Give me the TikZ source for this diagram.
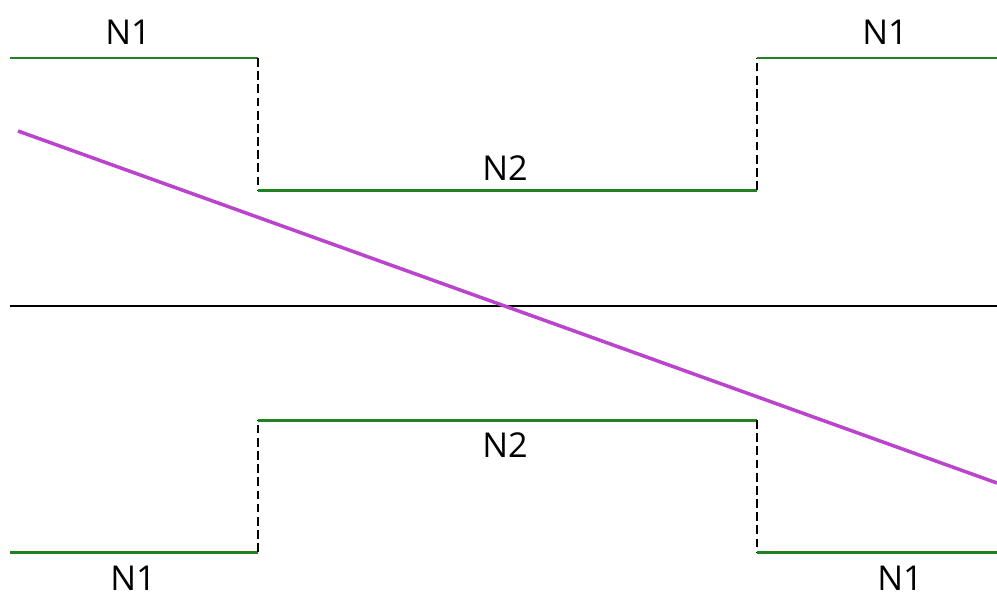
\documentclass[tikz,border=0pt]{standalone}
\usepackage{fontspec}
\setmainfont{Open Sans}
\usetikzlibrary{positioning}
\definecolor{hijauGaris}{RGB}{34,130,34}
\definecolor{unguGaris}{RGB}{187,68,204}

\begin{document}
\begin{tikzpicture}[
  x=0.02cm, y=-0.02cm,
  garisN/.style={draw=hijauGaris, line width=1.7pt},
  garisBatas/.style={draw=black, dash pattern=on 5pt off 2.5pt, line width=1.6pt},
  garisSumbu/.style={draw=black, line width=1.6pt},
  garisSinar/.style={draw=unguGaris, line width=2pt},
  label/.style={font=\fontsize{19.5}{22}\selectfont, inner sep=0pt}
]
  \useasboundingbox (0,0) rectangle (997,596);

  % titik sudut atas
  \coordinate (a1) at (10,58);
  \coordinate (a2) at (258,58);
  \coordinate (a3) at (258,190);
  \coordinate (a4) at (757,190);
  \coordinate (a5) at (757,58);
  \coordinate (a6) at (997,58);
  % titik sudut bawah
  \coordinate (b1) at (10,552);
  \coordinate (b2) at (258,552);
  \coordinate (b3) at (258,420);
  \coordinate (b4) at (757,420);
  \coordinate (b5) at (757,552);
  \coordinate (b6) at (997,552);
  % sumbu dan sinar
  \coordinate (s1) at (10,306);
  \coordinate (s2) at (997,306);
  \coordinate (r1) at (18,131);
  \coordinate (r2) at (997,483);

  \draw[garisN] (a1) -- (a2);
  \draw[garisBatas] (a2) -- (a3);
  \draw[garisN] (a3) -- (a4);
  \draw[garisBatas] (a4) -- (a5);
  \draw[garisN] (a5) -- (a6);

  \draw[garisN] (b1) -- (b2);
  \draw[garisBatas] (b2) -- (b3);
  \draw[garisN] (b3) -- (b4);
  \draw[garisBatas] (b4) -- (b5);
  \draw[garisN] (b5) -- (b6);

  \draw[garisSumbu] (s1) -- (s2);
  \draw[garisSinar] (r1) -- (r2);

  \node[label] (n1a) at (128,32) {N1};
  \node[label] (n2a) at (505,168) {N2};
  \node[label] (n1b) at (885,32) {N1};
  \node[label] (n2b) at (505,445) {N2};
  \node[label] (n1c) at (133,578) {N1};
  \node[label] (n1d) at (900,578) {N1};
\end{tikzpicture}
\end{document}
